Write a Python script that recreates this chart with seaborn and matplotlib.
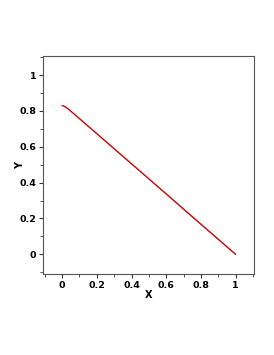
import matplotlib
matplotlib.use("Agg")
import matplotlib.pyplot as plt
import seaborn as sns
import pandas as pd
from matplotlib.ticker import MultipleLocator

x_vals = [0.0, 0.01, 0.02, 0.03, 0.05, 0.1, 0.2, 0.4, 0.6, 0.8, 1.0]
y_vals = [0.830, 0.827, 0.822, 0.815, 0.799, 0.757, 0.673, 0.505, 0.337, 0.168, 0.0]

sns.set_theme(style="ticks")
plt.rcParams['font.family'] = ['DejaVu Sans']

df = pd.DataFrame({"X": x_vals, "Y": y_vals})

fig = plt.figure(figsize=(2.74, 3.55), dpi=100)
ax = fig.add_axes([0.157, 0.228, 0.770, 0.614])
sns.lineplot(data=df, x="X", y="Y", ax=ax, color="#cc0000", linewidth=1.0)

ax.set_xlim(-0.11, 1.106)
ax.set_ylim(-0.11, 1.106)
ax.xaxis.set_minor_locator(MultipleLocator(0.1))
ax.yaxis.set_minor_locator(MultipleLocator(0.1))
ax.set_xticks([0, 0.2, 0.4, 0.6, 0.8, 1.0])
ax.set_xticklabels(["0", "0.2", "0.4", "0.6", "0.8", "1"])
ax.set_yticks([0, 0.2, 0.4, 0.6, 0.8, 1.0])
ax.set_yticklabels(["0", "0.2", "0.4", "0.6", "0.8", "1"])
ax.tick_params(which="both", top=False, right=False)
ax.tick_params(which="major", length=3, width=0.8, color="#333333",
               labelsize=6.8, labelcolor="black", pad=2)
ax.tick_params(which="minor", length=2, width=0.6, color="#333333")
for lab in ax.get_xticklabels() + ax.get_yticklabels():
    lab.set_fontweight("bold")
ax.set_xlabel("X", fontsize=7, fontweight="bold", color="black")
ax.set_ylabel("Y", fontsize=7, fontweight="bold", color="black")
ax.yaxis.set_label_coords(-0.085, 0.5)
ax.xaxis.set_label_coords(0.5, -0.075)
for s in ax.spines.values():
    s.set_color("#555555")
    s.set_linewidth(0.8)

fig.savefig("out.png", dpi=100)
